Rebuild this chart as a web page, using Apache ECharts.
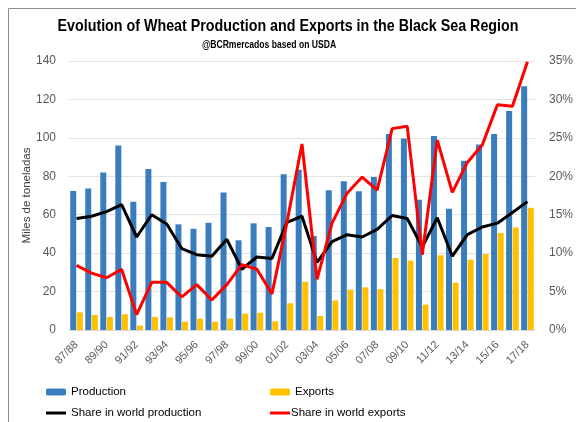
<!DOCTYPE html>
<html><head><meta charset="utf-8">
<script src="https://cdn.jsdelivr.net/npm/echarts@6/dist/echarts.min.js"></script>
<style>html,body{margin:0;padding:0;background:#fff}#c{width:576px;height:422px}</style>
</head><body><div id="c"></div>
<script>
const categories = ["87/88","88/89","89/90","90/91","91/92","92/93","93/94","94/95","95/96","96/97","97/98","98/99","99/00","00/01","01/02","02/03","03/04","04/05","05/06","06/07","07/08","08/09","09/10","10/11","11/12","12/13","13/14","14/15","15/16","16/17","17/18"];
const production = [72.3,73.7,82,96,66.8,83.8,77,55,52.7,55.8,71.5,46.7,55.5,53.6,81,83.4,48.9,72.7,77.4,72.2,79.6,102,99.7,67.8,101,63.1,88.1,96.6,102,114,126.8];
const exportsVol = [9.2,7.8,6.8,8.2,2.3,6.8,6.6,4.3,5.9,4.3,5.9,8.5,9.0,4.5,13.9,25.1,7.3,15.4,21,22.2,21.2,37.5,36.1,13.2,38.9,24.6,36.6,39.5,50.5,53.4,63.6];
const shareProduction = [14.5,14.8,15.4,16.3,12.1,15.0,13.8,10.6,9.8,9.6,11.8,7.9,9.5,9.3,14.0,14.8,8.8,11.5,12.4,12.1,13.1,14.9,14.5,10.8,14.6,9.6,12.4,13.4,13.9,15.3,16.7];
const shareExports = [8.4,7.4,6.8,7.9,2.0,6.2,6.2,4.3,5.9,3.9,5.9,8.5,7.9,4.7,14.0,24.2,6.6,13.9,17.8,19.9,18.2,26.2,26.5,9.8,24.7,17.9,21.8,24.1,29.3,29.1,34.9];
const leftTicks = {min:0,max:140,interval:20};
const rightTicks = {min:0,max:35,interval:5};
const titleText = 'Evolution of Wheat Production and Exports in the Black Sea Region';
const subtitleText = '@BCRmercados based on USDA';

const chart = echarts.init(document.getElementById('c'), null, {renderer:'canvas'});
const txt = '#595959';
const lf = 'Liberation Sans';
const legText = {fontFamily:lf,fontSize:11.5,color:'#000'};
chart.setOption({
  animation:false,
  backgroundColor:'#fff',
  graphic:[
    {type:'rect',shape:{x:8.5,y:8.5,width:600,height:500},style:{fill:'none',stroke:'#8c8c8c',lineWidth:1}},
    {type:'text',x:288,y:26,scaleX:0.84,style:{text:titleText,textAlign:'center',textVerticalAlign:'middle',font:'bold 17px "Liberation Sans", sans-serif',fill:'#000'}},
    {type:'text',x:269,y:44.5,scaleX:0.78,style:{text:subtitleText,textAlign:'center',textVerticalAlign:'middle',font:'bold 11px "Liberation Sans", sans-serif',fill:'#000'}}
  ],
  legend:[
    {data:['Production'],left:41,top:381,itemWidth:20,itemHeight:7,itemGap:6,textStyle:legText},
    {data:['Exports'],left:265,top:381,itemWidth:20,itemHeight:7,textStyle:legText},
    {data:[{name:'Share in world production',icon:'rect'}],left:41,top:402,itemWidth:20,itemHeight:3,textStyle:legText},
    {data:[{name:'Share in world exports',icon:'rect'}],left:265,top:402,itemWidth:20,itemHeight:3,textStyle:Object.assign({},legText,{padding:[0,0,0,-4]})}
  ],
  grid:{left:69,right:36,top:61,bottom:92},
  xAxis:{type:'category',data:categories,
    axisLine:{lineStyle:{color:'#d9d9d9'}},axisTick:{show:false},
    axisLabel:{interval:1,rotate:45,color:txt,fontSize:11,fontFamily:lf,margin:13}},
  yAxis:[
    {type:'value',min:leftTicks.min,max:leftTicks.max,interval:leftTicks.interval,
     name:'Miles de toneladas',nameLocation:'middle',nameGap:36,nameRotate:90,nameMoveOverlap:false,
     nameTextStyle:{color:'#404040',fontSize:11.5,fontFamily:lf},
     axisLabel:{color:txt,fontSize:12,fontFamily:lf,margin:13},
     splitLine:{lineStyle:{color:'#e3e3e3'}},axisLine:{show:false},axisTick:{show:false}},
    {type:'value',min:rightTicks.min,max:rightTicks.max,interval:rightTicks.interval,
     axisLabel:{color:txt,fontSize:12,fontFamily:lf,margin:14,formatter:'{value}%'},
     splitLine:{show:false},axisLine:{show:false},axisTick:{show:false}}
  ],
  series:[
    {name:'Production',type:'bar',data:production,barWidth:6,barGap:'10%',itemStyle:{color:'#3A7DBF'}},
    {name:'Exports',type:'bar',data:exportsVol,barWidth:6,itemStyle:{color:'#FFC000'}},
    {name:'Share in world production',type:'line',yAxisIndex:1,data:shareProduction,showSymbol:false,symbol:'none',lineStyle:{color:'#000',width:3},itemStyle:{color:'#000'}},
    {name:'Share in world exports',type:'line',yAxisIndex:1,data:shareExports,showSymbol:false,symbol:'none',lineStyle:{color:'#FF0000',width:3},itemStyle:{color:'#FF0000'}}
  ]
});
</script></body></html>
